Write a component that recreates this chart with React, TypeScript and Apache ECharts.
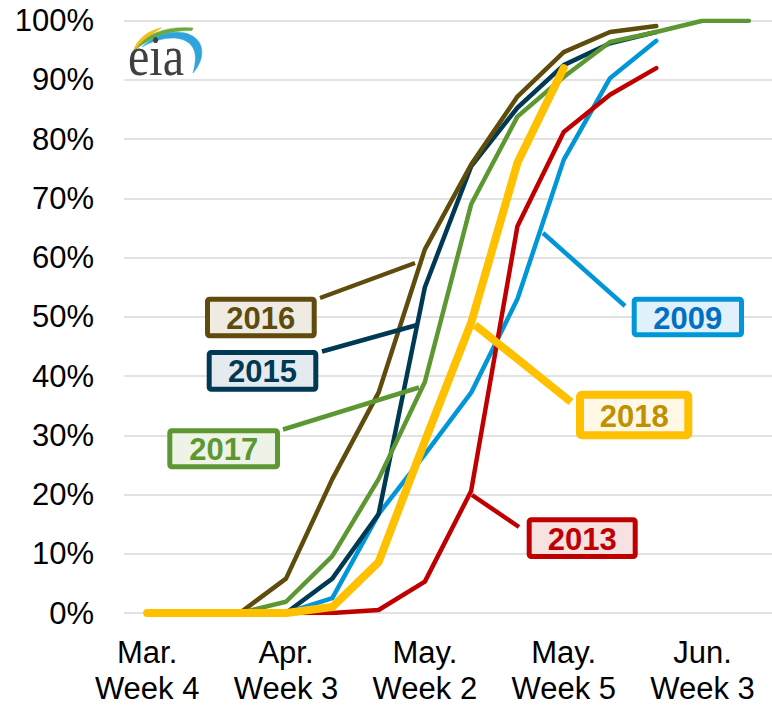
import React, { useEffect, useRef } from "react";
import * as echarts from "echarts";

const categories = [
  "Mar.\nWeek 4", "Apr.\nWeek 1", "Apr.\nWeek 2", "Apr.\nWeek 3", "Apr.\nWeek 4",
  "May.\nWeek 1", "May.\nWeek 2", "May.\nWeek 3", "May.\nWeek 4", "May.\nWeek 5",
  "Jun.\nWeek 1", "Jun.\nWeek 2", "Jun.\nWeek 3", "Jun.\nWeek 4",
];
const y2009 = [0, 0, 0, 0, 2.5, 16.7, 26.8, 37.2, 53, 76.5, 90.3, 96.6];
const y2013 = [0, 0, 0, 0, 0, 0.5, 5.3, 20.6, 65.3, 81.2, 87.5, 92];
const y2015 = [0, 0, 0, 0, 5.8, 16.7, 55, 75.4, 85.3, 92.5, 96.2, 98.1];
const y2016 = [0, 0, 0, 5.8, 22.6, 37.2, 61.4, 75.7, 87.2, 94.7, 98.1, 99.1];
const y2017 = [0, 0, 0, 1.9, 9.6, 22.6, 39, 69, 83.8, 90.5, 96.4, 98.1, 100, 100];
const y2018 = [0, 0, 0, 0, 1, 8.6, 29, 49, 76, 92];

const FONT = '"Liberation Sans", Arial, sans-serif';

let shapesRegistered = false;
function registerLogoShapes() {
  if (shapesRegistered) return;
  shapesRegistered = true;
  echarts.graphic.registerShape(
    "eiaYellow",
    echarts.graphic.extendPath("M134,50 C137,40 147,31 161,28 C153,33 143,41 134,50 Z", {})
  );
  echarts.graphic.registerShape(
    "eiaGreen",
    echarts.graphic.extendPath("M136,49 C148,32 168,26 193,28 L192,30.5 C170,30 152,37 136,49 Z", {})
  );
  echarts.graphic.registerShape(
    "eiaBlue",
    echarts.graphic.extendPath(
      "M142,47 C160,30 189,27 199,42 C205,52 201,64 193,73 C196,62 197,52 191,45 C182,35 162,36 142,47 Z",
      {}
    )
  );
}

function labelBox(
  x0: number, y0: number, x1: number, y1: number,
  lw: number, stroke: string, fill: string, color: string, text: string
) {
  return {
    type: "group",
    z: 100,
    children: [
      {
        type: "rect",
        z: 100,
        shape: { x: x0 + lw / 2, y: y0 + lw / 2, width: x1 - x0 - lw, height: y1 - y0 - lw, r: 2 },
        style: { fill, stroke, lineWidth: lw },
      },
      {
        type: "text",
        z: 101,
        x: (x0 + x1) / 2,
        y: (y0 + y1) / 2 + 1,
        style: {
          text,
          align: "center",
          verticalAlign: "middle",
          font: `bold 31px ${FONT}`,
          fill: color,
        },
      },
    ],
  };
}

function leader(x1: number, y1: number, x2: number, y2: number, color: string, lw: number) {
  return {
    type: "line",
    z: 99,
    shape: { x1, y1, x2, y2 },
    style: { stroke: color, lineWidth: lw },
  };
}

export default function App() {
  const ref = useRef<HTMLDivElement>(null);
  useEffect(() => {
    if (!ref.current) return;
    registerLogoShapes();
    const chart = echarts.init(ref.current, undefined, { renderer: "svg" });
    const mk = (name: string, data: number[], color: string, width: number) => ({
      name,
      type: "line",
      data,
      symbol: "none",
      lineStyle: { color, width, cap: "round", join: "round" },
      itemStyle: { color },
    });
    chart.setOption({
      animation: false,
      backgroundColor: "#ffffff",
      grid: { left: 124, right: 0, top: 20.7, bottom: 91.7, containLabel: false },
      xAxis: {
        type: "category",
        data: categories,
        boundaryGap: true,
        axisLine: { show: false },
        axisTick: { show: false },
        axisLabel: {
          interval: 2,
          color: "#000",
          fontFamily: FONT,
          fontSize: 31,
          lineHeight: 36,
          margin: 21,
        },
        splitLine: { show: false },
      },
      yAxis: {
        type: "value",
        min: 0,
        max: 100,
        interval: 10,
        axisLine: { show: false },
        axisTick: { show: false },
        axisLabel: {
          formatter: "{value}%",
          color: "#000",
          fontFamily: FONT,
          fontSize: 31,
          margin: 30,
        },
        splitLine: { lineStyle: { color: "#D9D9D9", width: 1.5 } },
      },
      series: [
        mk("2009", y2009, "#0096D7", 4.5),
        mk("2013", y2013, "#C00000", 4.5),
        mk("2015", y2015, "#003953", 4.5),
        mk("2016", y2016, "#5F4B0B", 4.5),
        mk("2017", y2017, "#5D9732", 4.5),
        mk("2018", y2018, "#FFC000", 8),
      ],
      graphic: [
        // EIA logo
        { type: "eiaYellow", z: 50, x: 0, y: 0, style: { fill: "#F2C01E", stroke: "#F2C01E", lineWidth: 1 } },
        { type: "eiaGreen", z: 50, x: 0, y: 0, style: { fill: "#6AAA3A", stroke: "#6AAA3A", lineWidth: 0.5 } },
        { type: "eiaBlue", z: 50, x: 0, y: 0, style: { fill: "#2EA3DC", stroke: "#2EA3DC", lineWidth: 0.5 } },
        {
          type: "text",
          z: 51,
          x: 128,
          y: 84,
          scaleX: 0.86,
          style: {
            text: "eia",
            font: '56px "Liberation Serif", "Times New Roman", serif',
            fill: "#404040",
            verticalAlign: "bottom",
          },
        },
        // leaders
        leader(320, 298, 415, 263, "#5F4B0B", 4.5),
        leader(322, 351.5, 417, 325, "#003953", 4.5),
        leader(283, 429.5, 419, 387.5, "#5D9732", 4.5),
        leader(543, 233, 625, 306, "#0096D7", 4.5),
        leader(475, 325, 571, 402, "#FFC000", 8),
        leader(472, 495, 519, 527, "#C00000", 4.5),
        // boxes
        labelBox(205, 296.7, 316.7, 338.3, 5, "#5F4B0B", "#EFEBE3", "#5F4B0B", "2016"),
        labelBox(206.7, 350, 318.3, 391.7, 5, "#003953", "#E5EAEE", "#003953", "2015"),
        labelBox(167.3, 428.3, 280, 469.3, 5, "#5D9732", "#EEF3E8", "#5D9732", "2017"),
        labelBox(631.7, 296.7, 744, 337.3, 5, "#0096D7", "#E1F1FB", "#0070C0", "2009"),
        labelBox(576, 390.7, 692.3, 439.3, 8, "#FFC000", "#FFF8E6", "#BF9000", "2018"),
        labelBox(526.7, 517.3, 637.7, 559, 5, "#C00000", "#F7E2E2", "#C00000", "2013"),
      ],
    });
    return () => chart.dispose();
  }, []);
  return (
    <div
      ref={ref}
      style={{ position: "fixed", left: 0, top: 0, width: 772, height: 706, background: "#fff" }}
    />
  );
}
